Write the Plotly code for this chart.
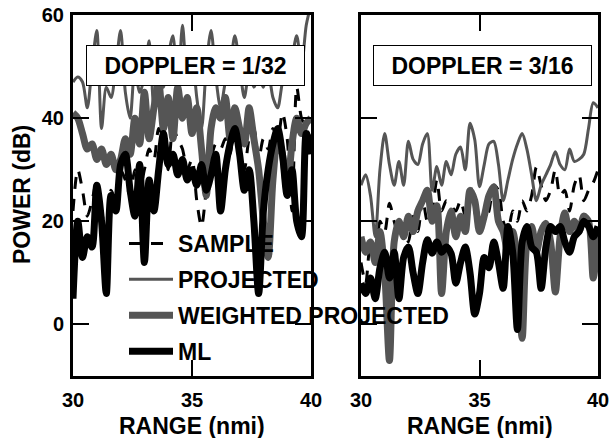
import plotly.graph_objects as go

# range axis (nmi), step 0.2
range_nmi = [round(30 + 0.2 * i, 1) for i in range(51)]

# DOPPLER = 1/32 (left panel)
left_sample = [22, 30, 26, 21, 24, 28, 22, 18, 26, 24, 30, 28, 25, 30, 26, 30, 34, 32, 38, 36,
               30, 38, 36, 34, 30, 32, 24, 19, 26, 32, 35, 34, 36, 33, 40, 34, 30, 36, 38, 32,
               36, 34, 38, 36, 41, 36, 22, 46, 40, 38, 36]
left_projected = [47, 48, 47, 42, 50, 57, 38, 46, 44, 50, 57, 45, 40, 50, 45, 48, 55, 42, 50, 46,
                  52, 56, 45, 58, 48, 52, 44, 38, 50, 57, 48, 42, 47, 50, 56, 50, 44, 49, 46, 48,
                  46, 49, 44, 42, 47, 50, 52, 56, 50, 58, 62]
left_weighted = [41, 40, 37, 34, 35, 32, 34, 31, 33, 30, 32, 36, 33, 40, 35, 45, 36, 42, 47, 38,
                 44, 36, 46, 40, 44, 37, 42, 34, 25, 38, 42, 40, 44, 36, 42, 38, 35, 42, 36, 30,
                 20, 13, 28, 36, 33, 26, 35, 40, 37, 39, 40]
left_ml = [5, 20, 13, 17, 15, 27, 20, 6, 25, 22, 31, 33, 26, 21, 31, 12, 28, 22, 30, 37,
           31, 33, 29, 32, 28, 30, 27, 31, 26, 29, 33, 22, 30, 35, 38, 33, 26, 30, 20, 6,
           22, 30, 35, 38, 33, 25, 30, 20, 17, 37, 33]

# DOPPLER = 3/16 (right panel)
right_sample = [12, 8, 15, 14, 20, 18, 23.5, 20, 17, 19, 16, 21, 18, 24.5, 20, 22, 28, 22, 24, 23,
                22, 24, 21, 27, 22, 18, 20, 22, 27, 26, 20, 18, 22, 20, 24, 22, 25, 30.5, 27, 24,
                26, 30, 25, 26, 22, 27, 29, 24, 26, 27.5, 30]
right_projected = [27, 29, 25, 17, 30, 37, 31, 27, 31.6, 27, 35.5, 32, 31, 35, 37, 26, 30.6, 27, 31.6, 29,
                   33, 34.4, 30, 39, 35.8, 26.7, 31, 35, 35.5, 31, 24, 28, 32, 35, 37, 34, 29, 24, 27, 29,
                   31, 33.5, 31, 30, 34, 31.6, 32, 33, 38, 43, 42]
right_weighted = [17, 14, 16, 12, 18, 10, -7, 16, 20, 17, 21, 18, 22, 24, 26, 20, 23, 6, 18, 22,
                  17, 21, 18, 26, 24, 18, 21, 25, 26.7, 20, 18, 14, 18, 12, -2.7, 16, 19, 14, 18, 19.6,
                  16, 6.3, 17, 21.6, 18, 20, 18, 21, 20, 9, 18]
right_ml = [8, 6, 9, 5, 11, 14, 9, 14, 5, 13, 15, 10, 6, 12, 16.4, 13.8, 16, 14, 15, 13.8,
            8, 12, 15, 10, 2, 6, 13, 11, 16, 12, 7, 19, 14, -1, 16, 19, 15, 14, 7, 15,
            19, 18, 19, 16, 14, 17, 18, 20, 19, 17, 19]

series_names = ["SAMPLE", "PROJECTED", "WEIGHTED PROJECTED", "ML"]
doppler_labels = ["DOPPLER = 1/32", "DOPPLER = 3/16"]
y_ticks = [0, 20, 40, 60]
x_ticks = [30, 35, 40]

styles = {
    "SAMPLE": dict(color="black", width=3, dash="12px,10px"),
    "PROJECTED": dict(color="#555555", width=3),
    "WEIGHTED PROJECTED": dict(color="#555555", width=7),
    "ML": dict(color="black", width=7),
}

panels = [
    ("x", "y", [left_sample, left_projected, left_weighted, left_ml], True),
    ("x2", "y2", [right_sample, right_projected, right_weighted, right_ml], False),
]

FONT = "Liberation Sans, Arial, sans-serif"

fig = go.Figure()
for xa, ya, data, show in panels:
    for name, vals in zip(series_names, data):
        fig.add_trace(go.Scatter(
            x=range_nmi, y=vals, mode="lines", name=name,
            line=dict(shape="spline", smoothing=0.8, **styles[name]),
            xaxis=xa, yaxis=ya, showlegend=show, legendgroup=name,
        ))

W, H = 614, 438


def fx(p):
    return p / W


def fy(p):
    return 1 - p / H


axis_common = dict(
    showline=True, linecolor="black", linewidth=3, mirror="ticks",
    ticks="inside", ticklen=16, tickwidth=2, tickcolor="black",
    showgrid=False, zeroline=False, automargin=False, ticklabeloverflow="allow",
    tickfont=dict(family=FONT, size=20, color="black", weight="bold"),
)
ydom = [fy(376), fy(15)]
fig.update_layout(
    template="none",
    width=W, height=H,
    margin=dict(l=0, r=0, t=0, b=0, pad=0),
    plot_bgcolor="white", paper_bgcolor="white",
    xaxis=dict(domain=[fx(73), fx(311)], range=[30, 40], tickvals=x_ticks, anchor="y",
               ticklabelstandoff=4, **axis_common),
    yaxis=dict(domain=ydom, range=[-10, 60], tickvals=y_ticks, anchor="x",
               ticklabelstandoff=2, **axis_common),
    xaxis2=dict(domain=[fx(361), fx(598)], range=[30, 40], tickvals=x_ticks, anchor="y2",
                ticklabelstandoff=4, **axis_common),
    yaxis2=dict(domain=ydom, range=[-10, 60], tickvals=y_ticks, anchor="x2", showticklabels=False, **axis_common),
    legend=dict(
        x=fx(124), y=fy(222), xanchor="left", yanchor="top",
        bgcolor="rgba(0,0,0,0)", borderwidth=0, tracegroupgap=3, itemwidth=44,
        font=dict(family=FONT, size=23, color="black", weight="bold"),
    ),
    showlegend=True,
)

ann_font = dict(family=FONT, color="black", weight="bold")
# DOPPLER boxes
for lab, cx in zip(doppler_labels, [195.5, 482.2]):
    fig.add_annotation(
        text=lab, x=fx(cx), y=fy(66), xref="paper", yref="paper",
        showarrow=False, font=dict(size=23, **ann_font),
        bordercolor="black", borderwidth=1, bgcolor="white",
        width=215, height=37, borderpad=1, xanchor="center", yanchor="middle",
    )
# axis titles
fig.add_annotation(text="POWER (dB)", x=fx(22), y=fy(195), xref="paper", yref="paper",
                   xanchor="center", yanchor="middle",
                   showarrow=False, textangle=-90, font=dict(size=23, **ann_font))
for cx in [192, 480]:
    fig.add_annotation(text="RANGE (nmi)", x=fx(cx), y=fy(426), xref="paper", yref="paper",
                       xanchor="center", yanchor="middle",
                       showarrow=False, font=dict(size=23, **ann_font))

# remove the browser's default 8px page margin so the figure fills the window
fig.write_html("out.html", config={"displayModeBar": False},
               post_script="document.body.style.margin='0px';")
